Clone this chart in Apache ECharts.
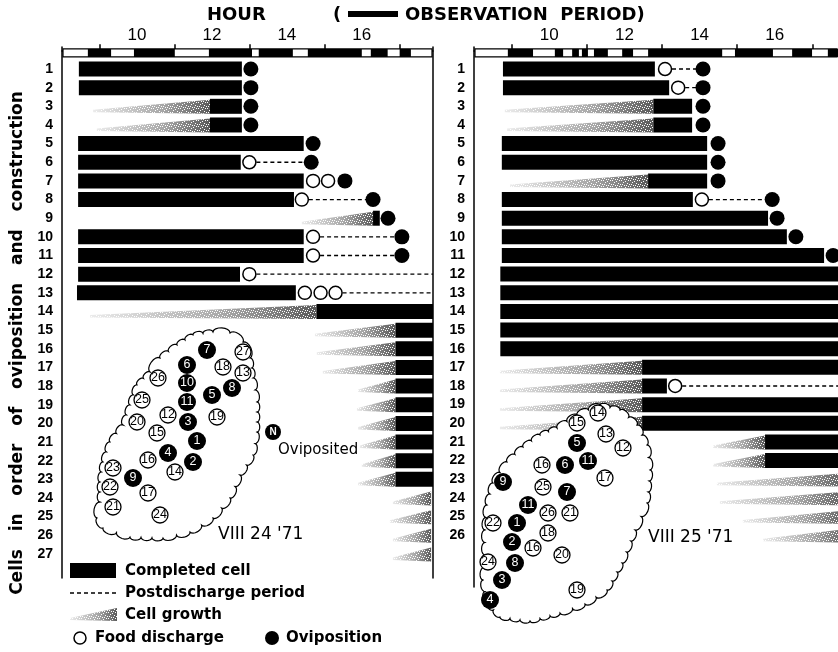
<!DOCTYPE html>
<html>
<head>
<meta charset="utf-8">
<script src="https://cdn.jsdelivr.net/npm/echarts@6/dist/echarts.min.js"></script>
<style>
html, body { margin: 0; padding: 0; background: #fff; }
#chart { width: 838px; height: 652px; }
</style>
</head>
<body>
<div id="chart"></div>
<script>
// ticks on odd hours, labels on even hours
var hourTicks = [9, 11, 13, 15, 17];
var hourLabels = [10, 12, 14, 16];
var rows24 = [];
for (var i = 1; i <= 27; i++) rows24.push(i);
var rows25 = rows24.slice(0, 26);

// ---- VIII 24 '71 (left) : [row, start, end] / [row, hour]
var obs24 = [[8.69, 9.31], [9.92, 11.01], [11.92, 13.07], [13.25, 14.16], [14.56, 16.0], [16.24, 16.69], [17.01, 17.31]];
var completed24 = [
	[1, 8.45, 12.8], [2, 8.45, 12.8], [3, 11.95, 12.8], [4, 11.95, 12.8],
	[5, 8.43, 14.45], [6, 8.43, 12.77], [7, 8.43, 14.45], [8, 8.43, 14.19],
	[9, 16.3, 16.48], [10, 8.43, 14.45], [11, 8.43, 14.45], [12, 8.43, 12.75],
	[13, 8.4, 14.24], [14, 14.79, 18], [15, 16.9, 18], [16, 16.9, 18],
	[17, 16.9, 18], [18, 16.9, 18], [19, 16.9, 18], [20, 16.9, 18],
	[21, 16.9, 18], [22, 16.9, 18], [23, 16.9, 18]
];
var growth24 = [
	[3, 8.83, 11.95], [4, 8.93, 11.95], [9, 14.4, 16.3], [14, 8.75, 14.79],
	[15, 14.75, 16.9], [16, 14.8, 16.9], [17, 14.96, 16.9], [18, 15.9, 16.9],
	[19, 15.87, 16.9], [20, 15.9, 16.9], [21, 15.95, 16.9], [22, 16.0, 16.9],
	[23, 15.9, 16.9], [24, 16.83, 17.85], [25, 16.75, 17.85], [26, 16.83, 17.85], [27, 16.83, 17.85]
];
var post24 = [[6, 13.0, 14.65], [8, 14.4, 16.3], [10, 14.7, 17.07], [11, 14.7, 17.07], [12, 13.0, 18], [13, 15.3, 18]];
var food24 = [[6, 13.0], [7, 14.7], [7, 15.1], [8, 14.4], [10, 14.7], [11, 14.7], [12, 13.0], [13, 14.48], [13, 14.9], [13, 15.3]];
var ovi24 = [[1, 13.04], [2, 13.04], [3, 13.04], [4, 13.04], [5, 14.7], [6, 14.65], [7, 15.55], [8, 16.3], [9, 16.7], [10, 17.07], [11, 17.07]];

// ---- VIII 25 '71 (right)
var obs25 = [[8.9, 9.57], [10.15, 10.37], [10.61, 10.79], [10.87, 11.03], [11.19, 11.56], [11.94, 12.23], [12.63, 14.6], [14.94, 15.95], [16.46, 16.99], [17.41, 17.7]];
var completed25 = [
	[1, 8.77, 12.81], [2, 8.77, 13.19], [3, 12.77, 13.8], [4, 12.77, 13.8],
	[5, 8.74, 14.2], [6, 8.74, 14.2], [7, 12.63, 14.2], [8, 8.74, 13.82],
	[9, 8.74, 15.82], [10, 8.74, 16.32], [11, 8.74, 17.31], [12, 8.7, 18],
	[13, 8.7, 18], [14, 8.7, 18], [15, 8.7, 18], [16, 8.7, 18],
	[17, 12.47, 18], [18, 12.47, 13.13], [19, 12.47, 18], [20, 12.47, 18],
	[21, 15.74, 18], [22, 15.74, 18]
];
var growth25 = [
	[3, 8.82, 12.77], [4, 8.88, 12.77], [7, 8.96, 12.63], [17, 8.69, 12.47],
	[18, 8.69, 12.47], [19, 8.69, 12.47], [20, 8.69, 12.47], [21, 14.36, 15.74],
	[22, 14.36, 15.74], [23, 14.46, 18], [24, 14.54, 18], [25, 15.15, 18], [26, 15.69, 18]
];
var post25 = [[1, 13.08, 14.09], [2, 13.43, 14.09], [8, 14.06, 15.93], [18, 13.35, 18]];
var food25 = [[1, 13.08], [2, 13.43], [8, 14.06], [18, 13.35]];
var ovi25 = [[1, 14.09], [2, 14.09], [3, 14.09], [4, 14.09], [5, 14.49], [6, 14.49], [7, 14.49], [8, 15.93], [9, 16.06], [10, 16.56], [11, 17.55]];

// ---- nest maps: [x, y, label, oviposited] in nest units
var nest24 = [
	[112, 20, '7', 1], [148, 22, '27', 0], [92, 35, '6', 1], [128, 37, '18', 0], [148, 43, '13', 0],
	[63, 48, '26', 0], [92, 53, '10', 1], [137, 58, '8', 1], [117, 65, '5', 1], [47, 70, '25', 0],
	[92, 72, '11', 1], [73, 85, '12', 0], [122, 87, '19', 0], [42, 92, '20', 0], [93, 92, '3', 1],
	[62, 103, '15', 0], [102, 111, '1', 1], [73, 123, '4', 1], [53, 130, '16', 0], [98, 132, '2', 1],
	[18, 138, '23', 0], [80, 142, '14', 0], [38, 148, '9', 1], [15, 157, '22', 0], [53, 163, '17', 0],
	[18, 177, '21', 0], [65, 185, '24', 0]
];
var nestOutline24 = [[118, 2], [135, 3], [148, 12], [155, 28], [158, 48], [162, 72], [162, 102], [158, 125], [145, 145],
	[135, 168], [118, 188], [95, 202], [68, 208], [35, 207], [8, 198], [2, 188], [5, 172], [5, 152], [8, 132],
	[15, 112], [28, 95], [35, 75], [42, 55], [55, 42], [65, 28], [82, 15], [98, 5]];
var nest25 = [
	[118, 13, '14', 0], [97, 23, '15', 0], [126, 34, '13', 0], [97, 43, '5', 1], [143, 48, '12', 0],
	[62, 65, '16', 0], [85, 65, '6', 1], [108, 61, '11', 1], [125, 78, '17', 0], [23, 82, '9', 1],
	[63, 87, '25', 0], [87, 92, '7', 1], [48, 105, '11', 1], [68, 113, '26', 0], [90, 113, '21', 0],
	[13, 123, '22', 0], [37, 123, '1', 1], [68, 133, '18', 0], [32, 142, '2', 1], [53, 148, '16', 0],
	[82, 155, '20', 0], [8, 162, '24', 0], [35, 163, '8', 1], [22, 180, '3', 1], [97, 190, '19', 0],
	[10, 200, '4', 1]
];
var nestOutline25 = [[120, 5], [140, 10], [157, 25], [167, 45], [170, 70], [167, 103], [155, 130], [142, 163],
	[127, 190], [105, 204], [80, 213], [50, 221], [20, 217], [7, 203], [3, 180], [5, 155], [5, 130], [7, 105],
	[13, 83], [27, 62], [43, 47], [60, 35], [77, 28], [97, 15]];

var BAR_H = 15;
var BAND_ROW = 0.14;
var FONT = "'DejaVu Sans', sans-serif";
var NARROW = "'Liberation Sans Narrow', 'Liberation Sans', sans-serif";

function growthFill() {
	return new echarts.graphic.LinearGradient(0, 0, 1, 0, [
		{ offset: 0, color: 'rgba(0,0,0,0.08)' },
		{ offset: 0.6, color: 'rgba(0,0,0,0.35)' },
		{ offset: 1, color: 'rgba(0,0,0,0.65)' }
	]);
}
// white speckles laid over the growth wedge to look stippled
var speck = document.createElement('canvas');
speck.width = 9; speck.height = 6;
(function () {
	var c = speck.getContext('2d');
	c.fillStyle = '#fff';
	[[0, 0], [4, 1], [7, 0], [2, 2], [6, 3], [1, 4], [5, 5], [8, 4], [3, 5]].forEach(function (p) { c.fillRect(p[0], p[1], 1, 1); });
})();
var speckFill = { image: speck, repeat: 'repeat' };

function renderBar(params, api) {
	var a = api.coord([api.value(1), api.value(0)]);
	var b = api.coord([api.value(2), api.value(0)]);
	return { type: 'rect', shape: { x: a[0], y: a[1] - BAR_H / 2, width: b[0] - a[0], height: BAR_H }, style: { fill: '#000' } };
}
function renderGrowth(params, api) {
	var a = api.coord([api.value(1), api.value(0)]);
	var b = api.coord([api.value(2), api.value(0)]);
	var top = a[1] - BAR_H / 2, bot = a[1] + BAR_H / 2;
	var pts = [[a[0], bot - 4], [b[0], top + 1], [b[0], bot], [a[0], bot - 1.5]];
	return {
		type: 'group',
		children: [
			{ type: 'polygon', shape: { points: pts }, style: { fill: growthFill() } },
			{ type: 'polygon', shape: { points: pts }, style: { fill: speckFill } }
		]
	};
}
function renderPost(params, api) {
	var a = api.coord([api.value(1), api.value(0)]);
	var b = api.coord([api.value(2), api.value(0)]);
	return { type: 'line', shape: { x1: a[0], y1: a[1], x2: b[0], y2: b[1] }, style: { stroke: '#000', lineWidth: 1.3, lineDash: [4, 3] } };
}
function renderObs(params, api) {
	var a = api.coord([api.value(0), BAND_ROW]);
	var b = api.coord([api.value(1), BAND_ROW]);
	return { type: 'rect', shape: { x: a[0], y: a[1] - 4, width: b[0] - a[0], height: 8 }, style: { fill: '#000' } };
}
function renderFrame(params, api) {
	var a = api.coord([api.value(0), BAND_ROW]);
	var b = api.coord([api.value(1), BAND_ROW]);
	return { type: 'rect', shape: { x: a[0] + 1, y: a[1] - 4, width: b[0] - a[0] - 2, height: 8 }, style: { fill: '#fff', stroke: '#000', lineWidth: 1.2 } };
}

// scalloped outline: a small outward bump on every piece of each edge
function scallop(pts, step, depth) {
	var out = [];
	for (var i = 0; i < pts.length; i++) {
		var a = pts[i], b = pts[(i + 1) % pts.length];
		var dx = b[0] - a[0], dy = b[1] - a[1], len = Math.sqrt(dx * dx + dy * dy);
		var n = Math.max(1, Math.round(len / step));
		var ux = dx / len, uy = dy / len, nx = uy, ny = -ux;
		var r = len / n / 2;
		for (var k = 0; k < n; k++) {
			var mx = a[0] + dx * k / n + ux * r, my = a[1] + dy * k / n + uy * r;
			for (var t = 0; t <= 8; t++) {
				var ang = Math.PI * t / 8;
				out.push([mx - r * Math.cos(ang) * ux + depth * r * Math.sin(ang) * nx,
					my - r * Math.cos(ang) * uy + depth * r * Math.sin(ang) * ny]);
			}
		}
	}
	return out;
}
function outlineRenderer(outline) {
	return function (params, api) {
		var pts = outline.map(function (p) { return api.coord(p); });
		return { type: 'polygon', shape: { points: scallop(pts, 12, 0.55) }, style: { fill: '#fff', stroke: '#000', lineWidth: 1.2 } };
	};
}

function panelSeries(xi, yi, obs, xmin, xmax, completed, growth, post, food, ovi) {
	return [
		{ type: 'custom', xAxisIndex: xi, yAxisIndex: yi, renderItem: renderFrame, data: [[xmin, xmax]], z: 3, silent: true },
		{ type: 'custom', xAxisIndex: xi, yAxisIndex: yi, renderItem: renderObs, data: obs, z: 4, silent: true },
		{ type: 'custom', xAxisIndex: xi, yAxisIndex: yi, renderItem: renderGrowth, data: growth, clip: true, z: 2, silent: true },
		{ type: 'custom', xAxisIndex: xi, yAxisIndex: yi, renderItem: renderBar, data: completed, clip: true, z: 3, silent: true },
		{ type: 'custom', xAxisIndex: xi, yAxisIndex: yi, renderItem: renderPost, data: post, clip: true, z: 3, silent: true },
		{
			type: 'scatter', xAxisIndex: xi, yAxisIndex: yi, data: food, encode: { x: 1, y: 0 },
			symbol: 'circle', symbolSize: 13, itemStyle: { color: '#fff', borderColor: '#000', borderWidth: 1.5, opacity: 1 }, z: 4, silent: true
		},
		{
			type: 'scatter', xAxisIndex: xi, yAxisIndex: yi, data: ovi, encode: { x: 1, y: 0 },
			symbol: 'circle', symbolSize: 15, itemStyle: { color: '#000', opacity: 1 }, z: 4, silent: true
		}
	];
}

function nestSeries(xi, yi, outline, cells) {
	var filled = cells.filter(function (c) { return c[3]; });
	var open = cells.filter(function (c) { return !c[3]; });
	var lab = function (color) {
		return { show: true, position: 'inside', formatter: function (p) { return p.data[2]; }, color: color, fontFamily: NARROW, fontSize: 12.5 };
	};
	return [
		{ type: 'custom', xAxisIndex: xi, yAxisIndex: yi, renderItem: outlineRenderer(outline), data: [[0, 0]], z: 6, clip: false, silent: true },
		{
			type: 'scatter', xAxisIndex: xi, yAxisIndex: yi, data: open, symbol: 'circle', symbolSize: 16,
			itemStyle: { color: '#fff', borderColor: '#000', borderWidth: 1.3, opacity: 1 }, label: lab('#000'), z: 7, silent: true
		},
		{
			type: 'scatter', xAxisIndex: xi, yAxisIndex: yi, data: filled, symbol: 'circle', symbolSize: 18,
			itemStyle: { color: '#000', opacity: 1 }, label: lab('#fff'), z: 7, silent: true
		}
	];
}

function hourAxis(gi, max) {
	return {
		gridIndex: gi, type: 'value', position: 'top', min: 8, max: max,
		axisLine: { show: true, lineStyle: { color: '#000', width: 1.5 } },
		axisTick: { show: true, customValues: hourTicks, length: 6, lineStyle: { color: '#000', width: 1.5 } },
		axisLabel: { customValues: hourLabels, color: '#000', fontSize: 17, fontFamily: "'Liberation Sans', sans-serif", margin: 3 },
		splitLine: { show: false }
	};
}
function rowAxis(gi, max, labels) {
	return {
		gridIndex: gi, type: 'value', inverse: true, min: -0.18, max: max,
		axisLine: { show: true, lineStyle: { color: '#000', width: 1.5 } },
		axisTick: { show: false },
		axisLabel: { customValues: labels, color: '#000', fontSize: 14, fontWeight: 'bold', fontFamily: NARROW, margin: 9 },
		splitLine: { show: false }
	};
}
function hiddenAxis(gi, max, inv) {
	return { gridIndex: gi, type: 'value', min: 0, max: max, inverse: !!inv, show: false, splitLine: { show: false } };
}

var dom = document.getElementById('chart');
var myChart = echarts.init(dom);

var legendText = { fill: '#000', font: 'bold 15px ' + FONT, textVerticalAlign: 'middle' };
function txt(text, x, y, extra) {
	var s = Object.assign({}, legendText, { text: text, x: x, y: y }, extra || {});
	return { type: 'text', style: s, z: 10 };
}
var axisTitle = txt('Cells   in   order   of   oviposition   and   construction', 0, 0,
	{ font: 'bold 17px ' + FONT, textAlign: 'center' });
axisTitle.x = 18;
axisTitle.y = 343;
axisTitle.rotation = Math.PI / 2;

var option = {
	animation: false,
	backgroundColor: '#fff',
	grid: [
		{ left: 62, top: 47, width: 371, height: 531 },
		{ left: 474, top: 47, width: 364, height: 540 },
		{ left: 95, top: 330, width: 170, height: 215 },
		{ left: 480, top: 400, width: 175, height: 225 }
	],
	xAxis: [hourAxis(0, 17.9), hourAxis(1, 17.68), hiddenAxis(2, 170), hiddenAxis(3, 175)],
	yAxis: [
		rowAxis(0, 28.29, rows24),
		{ gridIndex: 0, type: 'value', position: 'right', inverse: true, min: -0.18, max: 28.29,
			axisLine: { show: true, lineStyle: { color: '#000', width: 1.5 } }, axisTick: { show: false }, axisLabel: { show: false }, splitLine: { show: false } },
		rowAxis(1, 28.78, rows25),
		hiddenAxis(2, 215, true),
		hiddenAxis(3, 225, true)
	],
	graphic: [
		txt('HOUR', 207, 15, { font: 'bold 18px ' + FONT }),
		txt('(', 333, 15, { font: 'bold 18px ' + FONT }),
		{ type: 'rect', shape: { x: 348, y: 11, width: 50, height: 6 }, style: { fill: '#000' } },
		txt('OBSERVATION  PERIOD)', 405, 15, { font: 'bold 18px ' + FONT }),
		axisTitle,
		{ type: 'circle', shape: { cx: 273, cy: 432, r: 8 }, style: { fill: '#000' }, z: 10 },
		txt('N', 273, 432, { font: 'bold 10px ' + NARROW, fill: '#fff', textAlign: 'center' }),
		txt('Oviposited', 278, 450, { font: '15px ' + FONT }),
		txt("VIII 24 '71", 218, 535, { font: '17px ' + FONT }),
		txt("VIII 25 '71", 648, 538, { font: '17px ' + FONT }),
		{ type: 'rect', shape: { x: 70, y: 563, width: 46, height: 15 }, style: { fill: '#000' } },
		txt('Completed cell', 125, 571),
		{ type: 'line', shape: { x1: 70, y1: 593, x2: 116, y2: 593 }, style: { stroke: '#000', lineWidth: 1.3, lineDash: [4, 3] } },
		txt('Postdischarge period', 125, 593),
		{ type: 'polygon', shape: { points: [[70, 618], [117, 608], [117, 621], [70, 620]] }, style: { fill: growthFill() } },
		{ type: 'polygon', shape: { points: [[70, 618], [117, 608], [117, 621], [70, 620]] }, style: { fill: speckFill } },
		txt('Cell growth', 125, 615),
		{ type: 'circle', shape: { cx: 80, cy: 638, r: 6 }, style: { fill: '#fff', stroke: '#000', lineWidth: 1.5 } },
		txt('Food discharge', 95, 638),
		{ type: 'circle', shape: { cx: 272, cy: 638, r: 7 }, style: { fill: '#000' } },
		txt('Oviposition', 286, 638)
	],
	series: [].concat(
		panelSeries(0, 0, obs24, 8, 17.9, completed24, growth24, post24, food24, ovi24),
		panelSeries(1, 2, obs25, 8, 17.68, completed25, growth25, post25, food25, ovi25),
		nestSeries(2, 3, nestOutline24, nest24),
		nestSeries(3, 4, nestOutline25, nest25)
	)
};

if (option && typeof option === "object") {
	myChart.setOption(option, true);
}
</script>
</body>
</html>
